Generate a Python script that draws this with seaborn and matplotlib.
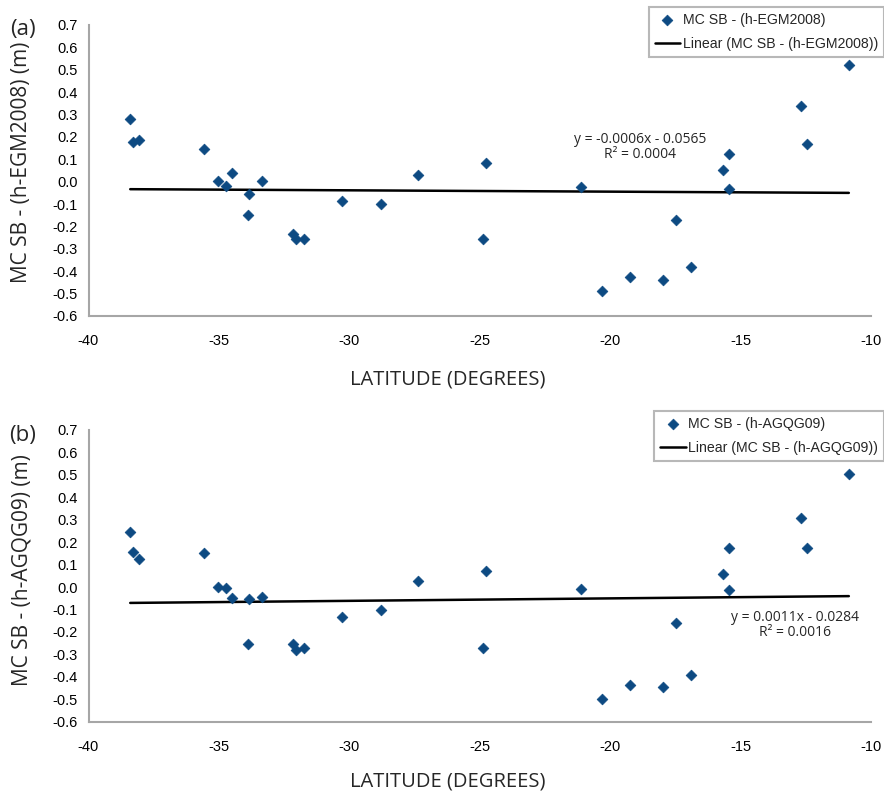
import matplotlib
matplotlib.use("Agg")
import matplotlib.pyplot as plt
import seaborn as sns
import numpy as np
import pandas as pd

# ---- data ----
latitude = [-38.40, -38.29, -38.05, -35.57, -35.04, -34.73, -34.49, -33.84, -33.88, -33.33,
            -32.15, -32.06, -31.72, -30.30, -28.79, -27.38, -24.77, -24.88, -21.10, -20.31,
            -19.25, -17.96, -17.48, -16.92, -15.69, -15.46, -15.43, -12.67, -12.46, -10.85]
diff_egm2008 = [0.281, 0.179, 0.188, 0.147, 0.002, -0.018, 0.039, -0.056, -0.149, 0.002,
                -0.234, -0.256, -0.255, -0.085, -0.100, 0.029, 0.085, -0.257, -0.022, -0.488,
                -0.424, -0.441, -0.173, -0.383, 0.052, 0.124, -0.034, 0.338, 0.168, 0.520]
diff_agqg09 = [0.246, 0.156, 0.127, 0.152, 0.000, -0.003, -0.050, -0.054, -0.252, -0.046,
               -0.252, -0.280, -0.271, -0.134, -0.103, 0.027, 0.072, -0.271, -0.007, -0.500,
               -0.438, -0.444, -0.159, -0.390, 0.057, 0.174, -0.013, 0.308, 0.173, 0.504]
fit_slope = [-0.0006, 0.0011]
fit_intercept = [-0.0565, -0.0284]
series_names = ["MC SB - (h-EGM2008)", "MC SB - (h-AGQG09)"]
ylabels = ["MC SB - (h-EGM2008) (m)", "MC SB - (h-AGQG09) (m)"]
panel_tags = ["(a)", "(b)"]
equations = ["y = -0.0006x - 0.0565\nR² = 0.0004", "y = 0.0011x - 0.0284\nR² = 0.0016"]
xticks = [-40, -35, -30, -25, -20, -15, -10]
yticks = [-0.6, -0.5, -0.4, -0.3, -0.2, -0.1, 0.0, 0.1, 0.2, 0.3, 0.4, 0.5, 0.6, 0.7]

sns.set_style("white")
plt.rcParams["font.family"] = ["Liberation Sans", "DejaVu Sans"]

W, H = 884, 792
fig = plt.figure(figsize=(W / 100, H / 100), dpi=100)

marker_color = "#0d4a82"
spine_color = "#a6a6a6"

axes_px = [(88.5, 25, 871, 316), (88.5, 430, 871, 721.7)]
legend_px = [(884, 7), (884, 411)]
eq_px = [(640, 147), (795, 625)]
tag_px = [(23, 30), (23, 436)]
ylab_x = 22
ylab_y = [162, 570]
xlab_x = 448
xlab_y = [379, 781]

for i, ys in enumerate([diff_egm2008, diff_agqg09]):
    l, t, r, b = axes_px[i]
    ax = fig.add_axes([l / W, 1 - b / H, (r - l) / W, (b - t) / H])
    df = pd.DataFrame({"lat": latitude, "val": ys})
    sns.scatterplot(data=df, x="lat", y="val", marker="D", s=30, color=marker_color,
                    edgecolor=marker_color, linewidth=0.5, ax=ax, label=series_names[i],
                    zorder=3)
    xs = np.array([min(latitude), max(latitude)])
    fit_df = pd.DataFrame({"lat": xs, "fit": fit_slope[i] * xs + fit_intercept[i]})
    sns.lineplot(data=fit_df, x="lat", y="fit", color="black", linewidth=1.8, ax=ax,
                 label="Linear (" + series_names[i] + ")", zorder=2)

    ax.set_xlim(-40, -10)
    ax.set_ylim(-0.6, 0.7)
    ax.set_xticks(xticks)
    ax.set_xticklabels([str(v) for v in xticks])
    ax.set_yticks(yticks)
    ax.set_yticklabels([f"{v:.1f}" for v in yticks])
    ax.tick_params(axis="both", direction="out", length=5, width=1.2, color=spine_color,
                   labelsize=10.5, labelcolor="black", pad=3)
    ax.tick_params(axis="x", pad=8)
    for s in ["top", "right"]:
        ax.spines[s].set_visible(False)
    for s in ["left", "bottom"]:
        ax.spines[s].set_color(spine_color)
        ax.spines[s].set_linewidth(1.5)
    ax.set_xlabel("")
    ax.set_ylabel("")

    # legend
    lx, ly = legend_px[i]
    leg = ax.legend(loc="upper right", bbox_to_anchor=(lx / W, 1 - ly / H),
                    bbox_transform=fig.transFigure, frameon=True, fancybox=False,
                    fontsize=10.2, handlelength=1.8, handletextpad=0.2,
                    borderpad=0.4, labelspacing=0.75, borderaxespad=0)
    leg.get_frame().set_edgecolor(spine_color)
    leg.get_frame().set_linewidth(1.5)

    ex, ey = eq_px[i]
    fig.text(ex / W, 1 - ey / H, equations[i], ha="center", va="center",
             fontsize=10, linespacing=1.05, family=["Open Sans", "DejaVu Sans"])

    tx, ty = tag_px[i]
    fig.text(tx / W, 1 - ty / H, panel_tags[i], ha="center", va="center", fontsize=16,
             family=["Open Sans", "DejaVu Sans"])

    fig.text(ylab_x / W, 1 - ylab_y[i] / H, ylabels[i], rotation=90,
             ha="center", va="center", fontsize=15, family=["Open Sans", "DejaVu Sans"])
    fig.text(xlab_x / W, 1 - xlab_y[i] / H, "LATITUDE (DEGREES)",
             ha="center", va="center", fontsize=14.5, family=["Open Sans", "DejaVu Sans"])

fig.savefig("out.png", dpi=100)
